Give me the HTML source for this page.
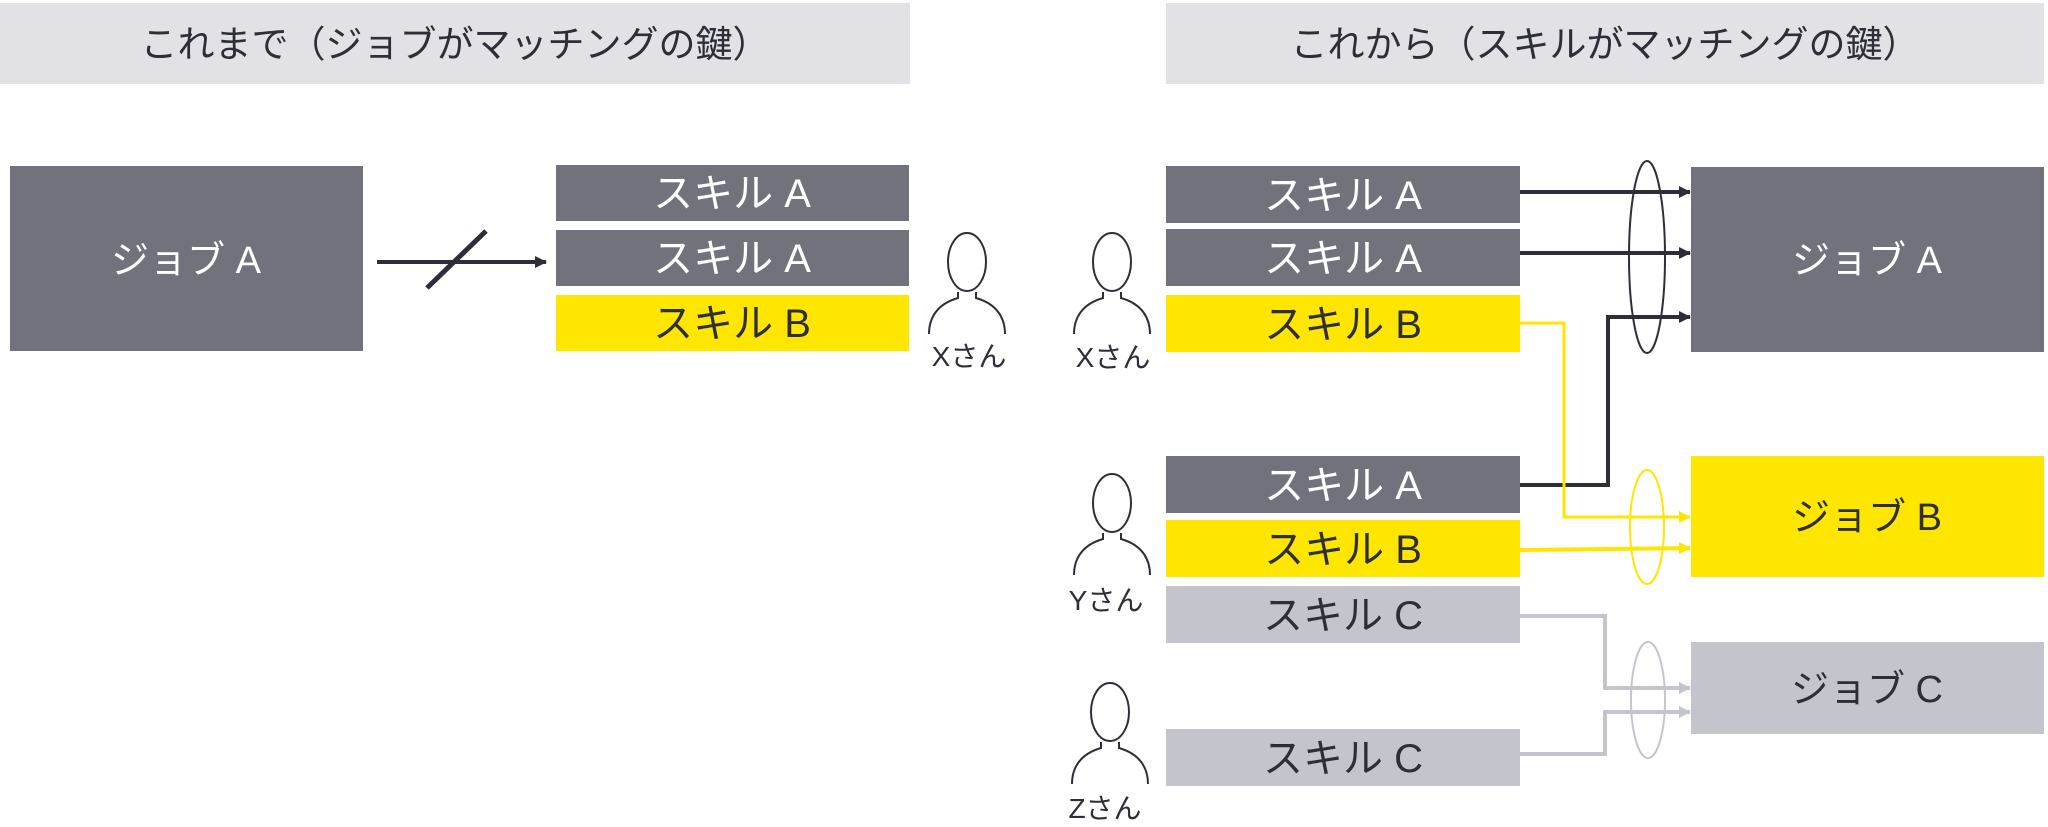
<!DOCTYPE html>
<html><head><meta charset="utf-8"><style>
html,body{margin:0;padding:0;background:#fff;}
svg{display:block;}
text{font-family:"Liberation Sans","Noto Sans CJK JP",sans-serif;}
</style></head><body>
<svg width="2048" height="827" viewBox="0 0 2048 827" xmlns="http://www.w3.org/2000/svg">
<defs>
<marker id="ad" markerWidth="12" markerHeight="12" refX="11" refY="6" orient="auto" markerUnits="userSpaceOnUse"><path d="M0,0 L12,6 L0,12 z" fill="#2e2e38"/></marker>
<marker id="ay" markerWidth="12" markerHeight="12" refX="11" refY="6" orient="auto" markerUnits="userSpaceOnUse"><path d="M0,0 L12,6 L0,12 z" fill="#ffe600"/></marker>
<marker id="ag" markerWidth="12" markerHeight="12" refX="11" refY="6" orient="auto" markerUnits="userSpaceOnUse"><path d="M0,0 L12,6 L0,12 z" fill="#c4c4cd"/></marker>
<g id="person" fill="none" stroke="#2e2e38" stroke-width="2">
<ellipse cx="0" cy="0" rx="19" ry="29"/>
<path d="M-9,30 L-9,36 C-30,42 -38,56 -38,72 M9,30 L9,36 C30,42 38,56 38,72"/>
</g>
</defs>
<!-- headers -->
<rect x="0" y="3" width="910" height="81" fill="#e1e1e6"/>
<text x="455" y="57" font-size="37" fill="#2e2e38" text-anchor="middle">これまで（ジョブがマッチングの鍵）</text>
<rect x="1166" y="3" width="878" height="81" fill="#e1e1e6"/>
<text x="1605" y="57" font-size="37" fill="#2e2e38" text-anchor="middle">これから（スキルがマッチングの鍵）</text>

<!-- left -->
<rect x="10" y="166" width="353" height="185" fill="#72727d"/>
<text x="186" y="273" font-size="38" fill="#fff" text-anchor="middle">ジョブ A</text>
<line x1="377" y1="262" x2="546" y2="262" stroke="#2e2e38" stroke-width="4" marker-end="url(#ad)"/>
<line x1="427" y1="288" x2="486" y2="231" stroke="#2e2e38" stroke-width="5"/>
<rect x="556" y="165" width="353" height="56" fill="#72727d"/>
<text x="732" y="207" font-size="40" fill="#fff" text-anchor="middle">スキル A</text>
<rect x="556" y="230" width="353" height="56" fill="#72727d"/>
<text x="732" y="272" font-size="40" fill="#fff" text-anchor="middle">スキル A</text>
<rect x="556" y="295" width="353" height="56" fill="#ffe600"/>
<text x="732" y="337" font-size="40" fill="#2e2e38" text-anchor="middle">スキル B</text>
<use href="#person" x="967" y="262"/>
<text x="969" y="366" font-size="28" fill="#2e2e38" text-anchor="middle">Xさん</text>

<!-- right skills -->
<rect x="1166" y="166" width="354" height="57" fill="#72727d"/>
<text x="1343" y="209" font-size="40" fill="#fff" text-anchor="middle">スキル A</text>
<rect x="1166" y="229" width="354" height="57" fill="#72727d"/>
<text x="1343" y="272" font-size="40" fill="#fff" text-anchor="middle">スキル A</text>
<rect x="1166" y="295" width="354" height="57" fill="#ffe600"/>
<text x="1343" y="338" font-size="40" fill="#2e2e38" text-anchor="middle">スキル B</text>
<rect x="1166" y="456" width="354" height="57" fill="#72727d"/>
<text x="1343" y="499" font-size="40" fill="#fff" text-anchor="middle">スキル A</text>
<rect x="1166" y="520" width="354" height="57" fill="#ffe600"/>
<text x="1343" y="563" font-size="40" fill="#2e2e38" text-anchor="middle">スキル B</text>
<rect x="1166" y="586" width="354" height="57" fill="#c4c4cd"/>
<text x="1343" y="629" font-size="40" fill="#2e2e38" text-anchor="middle">スキル C</text>
<rect x="1166" y="729" width="354" height="57" fill="#c4c4cd"/>
<text x="1343" y="772" font-size="40" fill="#2e2e38" text-anchor="middle">スキル C</text>

<!-- jobs right -->
<rect x="1691" y="167" width="353" height="185" fill="#72727d"/>
<text x="1867" y="273" font-size="38" fill="#fff" text-anchor="middle">ジョブ A</text>
<rect x="1691" y="456" width="353" height="121" fill="#ffe600"/>
<text x="1867" y="530" font-size="38" fill="#2e2e38" text-anchor="middle">ジョブ B</text>
<rect x="1691" y="642" width="353" height="92" fill="#c4c4cd"/>
<text x="1867" y="702" font-size="38" fill="#2e2e38" text-anchor="middle">ジョブ C</text>

<!-- connectors -->
<g fill="none" stroke-width="4">
<path d="M1520,192 L1690,192" stroke="#2e2e38" marker-end="url(#ad)"/>
<path d="M1520,253 L1690,253" stroke="#2e2e38" marker-end="url(#ad)"/>
<path d="M1520,485 L1608,485 L1608,317 L1690,317" stroke="#2e2e38" marker-end="url(#ad)"/>
<path d="M1520,323 L1564,323 L1564,517 L1690,517" stroke="#ffe600" stroke-width="3" marker-end="url(#ay)"/>
<path d="M1520,550 L1690,548" stroke="#ffe600" marker-end="url(#ay)"/>
<path d="M1520,616 L1605,616 L1605,688 L1690,688" stroke="#c4c4cd" marker-end="url(#ag)"/>
<path d="M1520,754 L1605,754 L1605,712 L1690,712" stroke="#c4c4cd" marker-end="url(#ag)"/>
<ellipse cx="1647" cy="257" rx="18" ry="96" stroke="#2e2e38" stroke-width="2"/>
<ellipse cx="1647" cy="527" rx="17" ry="57" stroke="#ffe600" stroke-width="2"/>
<ellipse cx="1648" cy="700" rx="17" ry="58" stroke="#c4c4cd" stroke-width="2"/>
</g>

<!-- persons right -->
<use href="#person" x="1112" y="262"/>
<text x="1113" y="367" font-size="28" fill="#2e2e38" text-anchor="middle">Xさん</text>
<use href="#person" x="1112" y="503"/>
<text x="1106" y="610" font-size="28" fill="#2e2e38" text-anchor="middle">Yさん</text>
<use href="#person" x="1110" y="712"/>
<text x="1105" y="818" font-size="28" fill="#2e2e38" text-anchor="middle">Zさん</text>
</svg>
</body></html>
